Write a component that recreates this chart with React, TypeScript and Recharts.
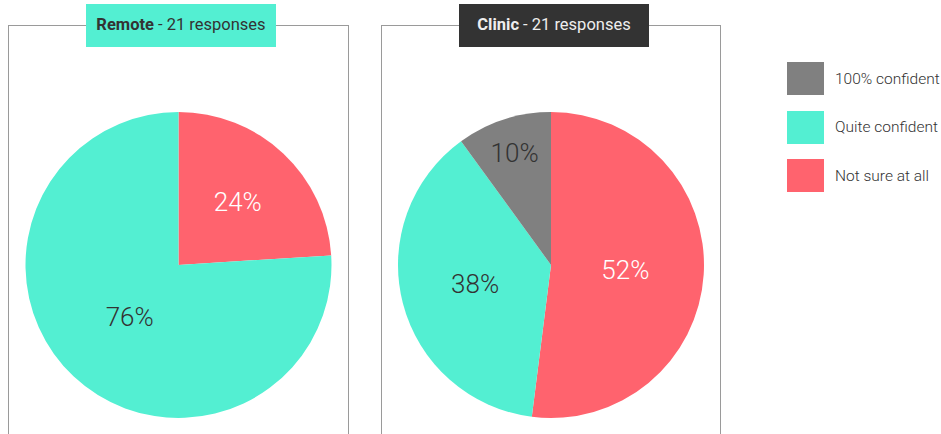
import { PieChart, Pie, Cell } from 'recharts';

const categories = ['Not sure at all', 'Quite confident', '100% confident'];
const remoteValues = [24, 76, 0];
const clinicValues = [52, 38, 10];
const legendOrder = ['100% confident', 'Quite confident', 'Not sure at all'];

const COLORS: Record<string, string> = {
  'Not sure at all': '#ff636e',
  'Quite confident': '#53efd2',
  '100% confident': '#808080',
};
const LABEL_COLORS: Record<string, string> = {
  'Not sure at all': '#ffffff',
  'Quite confident': '#333333',
  '100% confident': '#333333',
};

const RADIAN = Math.PI / 180;

// small slices push their label out towards the rim
const renderLabel = (props: any) => {
  const { cx, cy, midAngle, outerRadius, percent, name } = props;
  if (!percent) return null;
  const f = 0.42 + 0.035 / percent;
  const r = outerRadius * f;
  const x = cx + r * Math.cos(-midAngle * RADIAN);
  const y = cy + r * Math.sin(-midAngle * RADIAN);
  return (
    <text
      x={x}
      y={y}
      fill={LABEL_COLORS[name]}
      textAnchor="middle"
      dominantBaseline="central"
      fontSize={26}
      fontWeight={300}
      fontFamily="Roboto"
    >
      {Math.round(percent * 100)}%
    </text>
  );
};

interface PanelProps {
  left: number;
  width: number;
  title: string;
  values: number[];
  badgeBg: string;
  badgeColor: string;
}

const Panel = ({ left, width, title, values, badgeBg, badgeColor }: PanelProps) => {
  const data = categories
    .map((name, i) => ({ name, value: values[i] }))
    .filter(d => d.value > 0);
  return (
    <>
      <div
        style={{
          position: 'absolute',
          left,
          top: 25,
          width,
          height: 430,
          border: '1px solid #9a9a9a',
          boxSizing: 'border-box',
        }}
      >
        <PieChart width={width - 2} height={420} margin={{ top: 0, right: 0, bottom: 0, left: 0 }}>
          <Pie
            data={data}
            dataKey="value"
            nameKey="name"
            cx={(width - 2) / 2}
            cy={239}
            outerRadius={153}
            startAngle={90}
            endAngle={-270}
            stroke="none"
            labelLine={false}
            label={renderLabel}
            isAnimationActive={false}
          >
            {data.map(d => (
              <Cell key={d.name} fill={COLORS[d.name]} />
            ))}
          </Pie>
        </PieChart>
      </div>
      <div
        style={{
          position: 'absolute',
          left: left + 78,
          top: 4,
          width: 190,
          height: 43,
          background: badgeBg,
          color: badgeColor,
          fontFamily: 'Roboto',
          fontSize: 16.5,
          display: 'flex',
          alignItems: 'center',
          justifyContent: 'center',
          paddingBottom: 2,
          boxSizing: 'border-box',
        }}
      >
        <span style={{ fontWeight: 700 }}>{title}</span>
        <span>&nbsp;- 21 responses</span>
      </div>
    </>
  );
};

export default function App() {
  return (
    <div
      style={{
        position: 'absolute',
        left: 0,
        top: 0,
        width: 941,
        height: 434,
        overflow: 'hidden',
        background: '#ffffff',
      }}
    >
      <Panel left={8} width={341} title="Remote" values={remoteValues} badgeBg="#53efd2" badgeColor="#333333" />
      <Panel left={381} width={340} title="Clinic" values={clinicValues} badgeBg="#333333" badgeColor="#eeeeee" />
      {legendOrder.map((name, i) => (
        <div
          key={name}
          style={{
            position: 'absolute',
            left: 787,
            top: 62 + i * 48.5,
            display: 'flex',
            alignItems: 'center',
            fontFamily: 'Roboto',
            fontWeight: 300,
            fontSize: 15.5,
            color: '#333333',
          }}
        >
          <div style={{ width: 37, height: 33, background: COLORS[name], marginRight: 11 }} />
          {name}
        </div>
      ))}
    </div>
  );
}
